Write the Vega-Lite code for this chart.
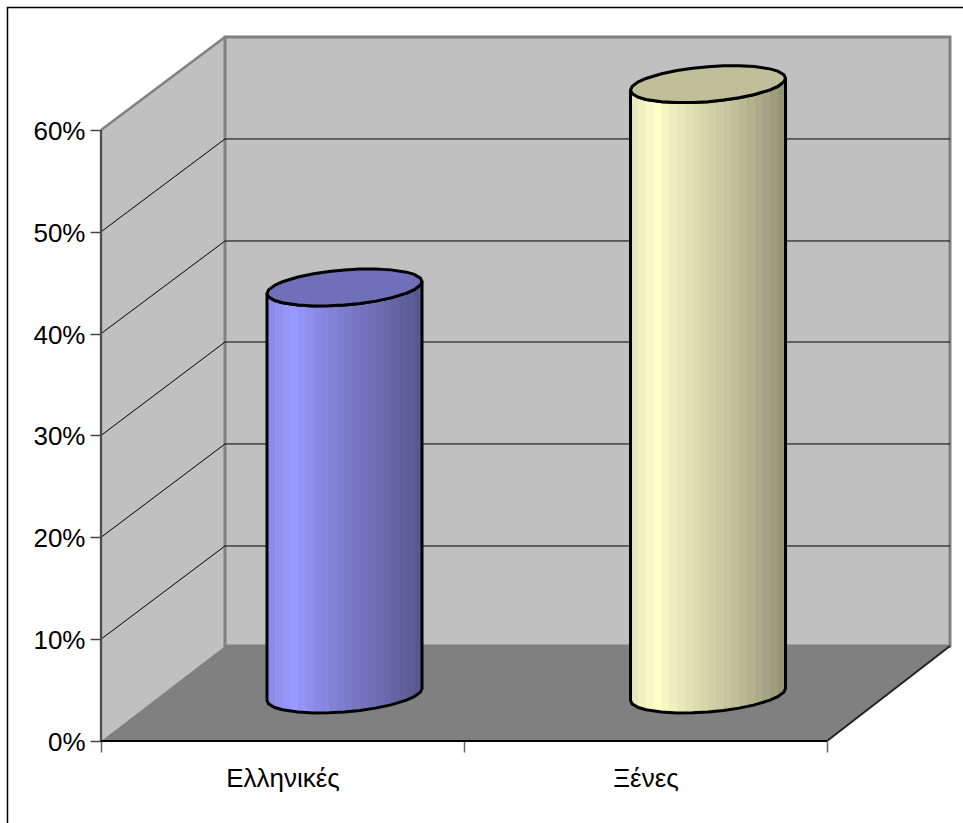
{"$schema":"https://vega.github.io/schema/vega-lite/v6.json","width":849,"height":704,"autosize":{"type":"none"},"padding":{"left":101,"top":37,"right":13,"bottom":82},"background":"white","config":{"view":{"stroke":null},"font":"Liberation Sans"},
"datasets":{
"frame":[{"x":-0.2576,"x2":2.7,"y":72.03,"y2":-12}],
"backWall":[{"x":0.3416,"x2":2.3388,"y":69.13,"y2":9.33}],
"sideWall":[{"x":0,"y":60,"y2":0},{"x":0.3416,"y":69.13,"y2":9.33}],
"floor":[{"x":0,"y":0,"y2":0},{"x":0.3416,"y":9.33,"y2":0},{"x":2,"y":9.33,"y2":0},{"x":2.3388,"y":9.33,"y2":9.33}],
"grid":[{"level":10,"x":0,"y":10},{"level":10,"x":0.3416,"y":19.15},{"level":10,"x":2.3388,"y":19.15},{"level":20,"x":0,"y":20},{"level":20,"x":0.3416,"y":29.17},{"level":20,"x":2.3388,"y":29.17},{"level":30,"x":0,"y":30},{"level":30,"x":0.3416,"y":39.18},{"level":30,"x":2.3388,"y":39.18},{"level":40,"x":0,"y":40},{"level":40,"x":0.3416,"y":49.1},{"level":40,"x":2.3388,"y":49.1},{"level":50,"x":0,"y":50},{"level":50,"x":0.3416,"y":59.12},{"level":50,"x":2.3388,"y":59.12}],
"edges":[{"id":"top","x":0,"y":60},{"id":"top","x":0.3416,"y":69.13},{"id":"left","x":0,"y":0},{"id":"left","x":0,"y":60},{"id":"bottom","x":0,"y":0},{"id":"bottom","x":2,"y":0},{"id":"diag","x":2,"y":0},{"id":"diag","x":2.3388,"y":9.33}],
"greek":[
{"x":0.4573,"base":3.977,"capLo":43.946,"capHi":43.946},{"x":0.4616,"base":3.647,"capLo":43.616,"capHi":44.299},{"x":0.4787,"base":3.286,"capLo":43.255,"capHi":44.754},{"x":0.5,"base":3.063,"capLo":43.032,"capHi":45.095},{"x":0.5427,"base":2.838,"capLo":42.807,"capHi":45.556},{"x":0.5854,"base":2.754,"capLo":42.723,"capHi":45.875},{"x":0.6281,"base":2.764,"capLo":42.733,"capHi":46.101},{"x":0.6708,"base":2.847,"capLo":42.816,"capHi":46.254},{"x":0.7135,"base":3.0,"capLo":42.969,"capHi":46.337},{"x":0.7562,"base":3.226,"capLo":43.195,"capHi":46.347},{"x":0.7989,"base":3.545,"capLo":43.514,"capHi":46.263},{"x":0.8416,"base":4.006,"capLo":43.975,"capHi":46.038},{"x":0.8629,"base":4.347,"capLo":44.316,"capHi":45.815},{"x":0.88,"base":4.802,"capLo":44.771,"capHi":45.454},{"x":0.8843,"base":5.155,"capLo":45.124,"capHi":45.124}],
"foreign":[
{"x":1.4587,"base":3.977,"capLo":63.911,"capHi":63.911},{"x":1.463,"base":3.647,"capLo":63.581,"capHi":64.264},{"x":1.4801,"base":3.286,"capLo":63.22,"capHi":64.719},{"x":1.5014,"base":3.063,"capLo":62.997,"capHi":65.06},{"x":1.5441,"base":2.838,"capLo":62.772,"capHi":65.521},{"x":1.5868,"base":2.754,"capLo":62.688,"capHi":65.84},{"x":1.6295,"base":2.764,"capLo":62.698,"capHi":66.066},{"x":1.6722,"base":2.847,"capLo":62.781,"capHi":66.219},{"x":1.7149,"base":3.0,"capLo":62.934,"capHi":66.302},{"x":1.7576,"base":3.226,"capLo":63.16,"capHi":66.312},{"x":1.8003,"base":3.545,"capLo":63.479,"capHi":66.228},{"x":1.843,"base":4.006,"capLo":63.94,"capHi":66.003},{"x":1.8643,"base":4.347,"capLo":64.281,"capHi":65.78},{"x":1.8814,"base":4.802,"capLo":64.736,"capHi":65.419},{"x":1.8857,"base":5.155,"capLo":65.089,"capHi":65.089}]
},
"encoding":{
"x":{"field":"x","type":"quantitative","scale":{"domain":[0,2.3388],"nice":false,"zero":false},"axis":{"title":null,"grid":false,"domain":false,"values":[0,0.5,1,1.5,2],"labelExpr":"datum.value==0.5?'Ελληνικές':datum.value==1.5?'Ξένες':''","labelFontSize":26,"labelFont":"Liberation Sans","labelColor":"#000000","tickColor":"#666666","tickSize":11,"tickWidth":1.5,"tickOpacity":{"condition":{"test":"datum.value==0.5||datum.value==1.5","value":0},"value":1},"labelPadding":13,"labelOverlap":false,"labelFlush":false}},
"y":{"field":"y","type":"quantitative","scale":{"domain":[0,69.13],"nice":false,"zero":false},"axis":{"title":null,"grid":false,"domain":false,"values":[0,10,20,30,40,50,60],"labelExpr":"datum.value+'%'","labelFontSize":26,"labelFont":"Liberation Sans","labelColor":"#000000","tickColor":"#444444","tickSize":11,"tickWidth":1.5,"labelPadding":5,"labelOffset":1.5,"labelOverlap":false}}
},
"layer":[
{"data":{"name":"frame"},"mark":{"type":"rect","fill":null,"fillOpacity":0,"stroke":"#000000","strokeWidth":1.5},"encoding":{"x2":{"field":"x2"},"y2":{"field":"y2"}}},
{"data":{"name":"sideWall"},"mark":{"type":"area","fill":"#C0C0C0"},"encoding":{"y2":{"field":"y2"}}},
{"data":{"name":"backWall"},"mark":{"type":"rect","fill":"#C0C0C0","stroke":"#808080","strokeWidth":3},"encoding":{"x2":{"field":"x2"},"y2":{"field":"y2"}}},
{"data":{"name":"floor"},"mark":{"type":"area","fill":"#808080"},"encoding":{"y2":{"field":"y2"}}},
{"data":{"name":"grid"},"mark":{"type":"line","stroke":"#000000","strokeWidth":1},"encoding":{"detail":{"field":"level"}}},
{"data":{"name":"edges"},"mark":{"type":"line"},"encoding":{"color":{"field":"id","type":"nominal","legend":null,"scale":{"domain":["top","left","bottom","diag"],"range":["#808080","#4d4d4d","#000000","#222222"]}},"strokeWidth":{"field":"id","type":"nominal","legend":null,"scale":{"domain":["top","left","bottom","diag"],"range":[2.5,2,1,1]}}}},
{"data":{"name":"greek"},"mark":{"type":"area","stroke":"#000000","strokeWidth":3,"fill":{"gradient":"linear","x1":0,"y1":0,"x2":1,"y2":0,"stops":[{"offset":0,"color":"#8c8ce8"},{"offset":0.05,"color":"#8c8ce8"},{"offset":0.05,"color":"#9090ee"},{"offset":0.1,"color":"#9090ee"},{"offset":0.1,"color":"#9696f8"},{"offset":0.15,"color":"#9696f8"},{"offset":0.15,"color":"#9999ff"},{"offset":0.2,"color":"#9999ff"},{"offset":0.2,"color":"#9494f6"},{"offset":0.25,"color":"#9494f6"},{"offset":0.25,"color":"#8f8fee"},{"offset":0.3,"color":"#8f8fee"},{"offset":0.3,"color":"#8a8ae6"},{"offset":0.35,"color":"#8a8ae6"},{"offset":0.35,"color":"#8686de"},{"offset":0.4,"color":"#8686de"},{"offset":0.4,"color":"#8282d8"},{"offset":0.45,"color":"#8282d8"},{"offset":0.45,"color":"#7e7ed0"},{"offset":0.5,"color":"#7e7ed0"},{"offset":0.5,"color":"#7a7acb"},{"offset":0.55,"color":"#7a7acb"},{"offset":0.55,"color":"#7676c4"},{"offset":0.6,"color":"#7676c4"},{"offset":0.6,"color":"#7272be"},{"offset":0.65,"color":"#7272be"},{"offset":0.65,"color":"#7070b8"},{"offset":0.7,"color":"#7070b8"},{"offset":0.7,"color":"#6c6cb2"},{"offset":0.75,"color":"#6c6cb2"},{"offset":0.75,"color":"#6868ab"},{"offset":0.8,"color":"#6868ab"},{"offset":0.8,"color":"#6464a4"},{"offset":0.85,"color":"#6464a4"},{"offset":0.85,"color":"#60609d"},{"offset":0.9,"color":"#60609d"},{"offset":0.9,"color":"#5c5c96"},{"offset":0.95,"color":"#5c5c96"},{"offset":0.95,"color":"#585890"},{"offset":1,"color":"#585890"}]}},"encoding":{"y":{"field":"capLo","type":"quantitative"},"y2":{"field":"base"}}},
{"data":{"name":"greek"},"mark":{"type":"area","stroke":"#000000","strokeWidth":3,"fill":"#7070BA"},"encoding":{"y":{"field":"capHi","type":"quantitative"},"y2":{"field":"capLo"}}},
{"data":{"name":"foreign"},"mark":{"type":"area","stroke":"#000000","strokeWidth":3,"fill":{"gradient":"linear","x1":0,"y1":0,"x2":1,"y2":0,"stops":[{"offset":0,"color":"#e8e8bc"},{"offset":0.05,"color":"#e8e8bc"},{"offset":0.05,"color":"#f0f0c2"},{"offset":0.1,"color":"#f0f0c2"},{"offset":0.1,"color":"#f9f9c8"},{"offset":0.15,"color":"#f9f9c8"},{"offset":0.15,"color":"#ffffcc"},{"offset":0.2,"color":"#ffffcc"},{"offset":0.2,"color":"#f6f6c5"},{"offset":0.25,"color":"#f6f6c5"},{"offset":0.25,"color":"#eeeebf"},{"offset":0.3,"color":"#eeeebf"},{"offset":0.3,"color":"#e8e8ba"},{"offset":0.35,"color":"#e8e8ba"},{"offset":0.35,"color":"#e2e2b5"},{"offset":0.4,"color":"#e2e2b5"},{"offset":0.4,"color":"#dcdcb0"},{"offset":0.45,"color":"#dcdcb0"},{"offset":0.45,"color":"#d6d6ab"},{"offset":0.5,"color":"#d6d6ab"},{"offset":0.5,"color":"#d0d0a7"},{"offset":0.55,"color":"#d0d0a7"},{"offset":0.55,"color":"#cbcba3"},{"offset":0.6,"color":"#cbcba3"},{"offset":0.6,"color":"#c5c59e"},{"offset":0.65,"color":"#c5c59e"},{"offset":0.65,"color":"#bfbf99"},{"offset":0.7,"color":"#bfbf99"},{"offset":0.7,"color":"#b9b994"},{"offset":0.75,"color":"#b9b994"},{"offset":0.75,"color":"#b3b38f"},{"offset":0.8,"color":"#b3b38f"},{"offset":0.8,"color":"#acac8a"},{"offset":0.85,"color":"#acac8a"},{"offset":0.85,"color":"#a5a585"},{"offset":0.9,"color":"#a5a585"},{"offset":0.9,"color":"#9d9d7e"},{"offset":0.95,"color":"#9d9d7e"},{"offset":0.95,"color":"#949477"},{"offset":1,"color":"#949477"}]}},"encoding":{"y":{"field":"capLo","type":"quantitative"},"y2":{"field":"base"}}},
{"data":{"name":"foreign"},"mark":{"type":"area","stroke":"#000000","strokeWidth":3,"fill":"#BFBF99"},"encoding":{"y":{"field":"capHi","type":"quantitative"},"y2":{"field":"capLo"}}}
]}
